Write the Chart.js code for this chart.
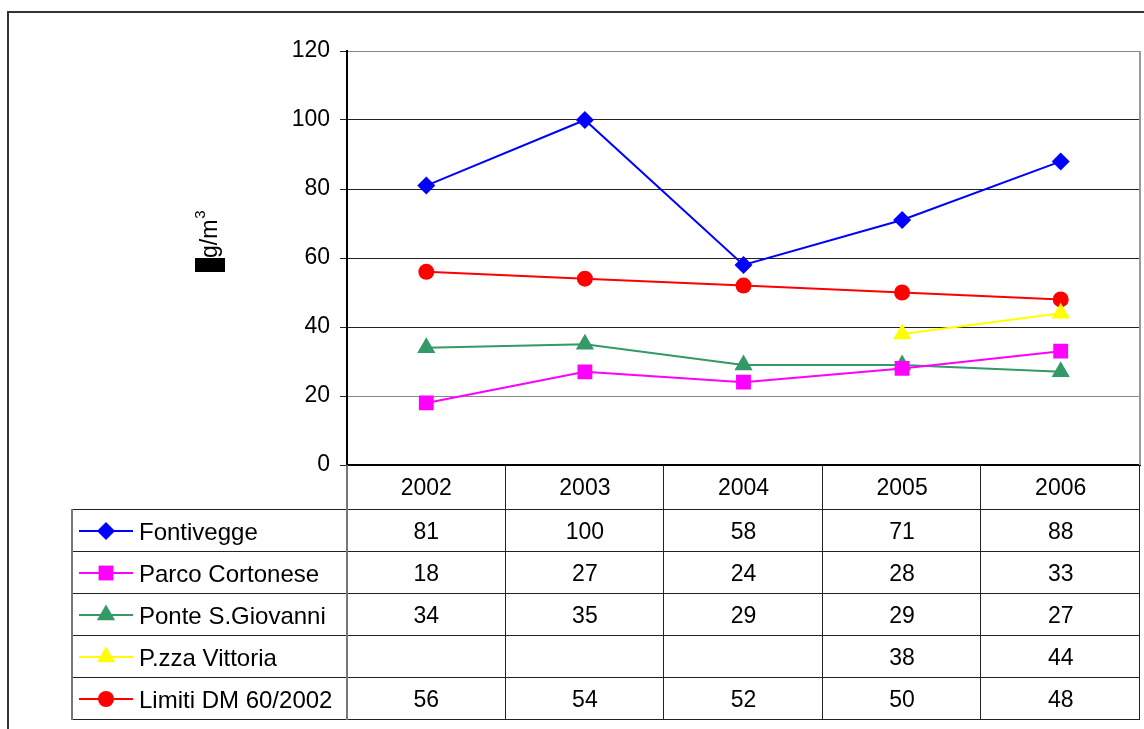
<!DOCTYPE html>
<html>
<head>
<meta charset="utf-8">
<script src="https://cdn.jsdelivr.net/npm/chart.js@4.4.0/dist/chart.umd.min.js"></script>
<style>
  html, body { margin: 0; padding: 0; background: #fff; }
</style>
</head>
<body>
<canvas id="grafico" width="1144" height="729"></canvas>
<script>
// Dati NO2 - medie annuali per stazione
const anni = ["2002", "2003", "2004", "2005", "2006"];
const fontivegge = [81, 100, 58, 71, 88];
const parcoCortonese = [18, 27, 24, 28, 33];
const ponteSGiovanni = [34, 35, 29, 29, 27];
const pzzaVittoria = [null, null, null, 38, 44];
const limitiDM = [56, 54, 52, 50, 48];
const tickY = [0, 20, 40, 60, 80, 100, 120];

const FAMIGLIA = "'Liberation Sans', Arial, sans-serif";
const FONT = "23px " + FAMIGLIA;

// disegna il simbolo della serie (usato nella legenda della tabella)
function disegnaMarker(c, stile, x, y, r, colore) {
  c.save();
  c.fillStyle = colore;
  c.beginPath();
  if (stile === "rectRot") {
    c.moveTo(x, y - r); c.lineTo(x + r, y); c.lineTo(x, y + r); c.lineTo(x - r, y);
  } else if (stile === "rect") {
    const s = r * Math.SQRT1_2;
    c.rect(x - s, y - s, 2 * s, 2 * s);
  } else if (stile === "triangle") {
    c.moveTo(x, y - r);
    c.lineTo(x + Math.sin(2 * Math.PI / 3) * r, y + r / 2);
    c.lineTo(x - Math.sin(2 * Math.PI / 3) * r, y + r / 2);
  } else {
    c.arc(x, y, r, 0, Math.PI * 2);
  }
  c.closePath();
  c.fill();
  c.restore();
}

const tabella = {
  id: "tabella",
  beforeDraw(chart) {
    const c = chart.ctx;
    c.save();
    c.fillStyle = "#fff";
    c.fillRect(0, 0, chart.width, chart.height);
    // cornice esterna
    c.strokeStyle = "#333";
    c.lineWidth = 2;
    c.beginPath();
    c.moveTo(8, chart.height);
    c.lineTo(8, 12);
    c.lineTo(chart.width, 12);
    c.stroke();
    c.restore();
  },
  afterDraw(chart) {
    const c = chart.ctx;
    const a = chart.chartArea;
    const x = chart.scales.x;
    const banda = (a.right - a.left) / anni.length;
    const sx = 72, top = 509, hRiga = 42;
    const serie = chart.data.datasets;
    const fondo = top + hRiga * serie.length;

    c.save();
    // bordo destro area grafico
    c.strokeStyle = "#999";
    c.lineWidth = 2;
    c.beginPath();
    c.moveTo(a.right, a.top);
    c.lineTo(a.right, a.bottom);
    c.stroke();

    // righe orizzontali della tabella
    c.strokeStyle = "#222";
    c.lineWidth = 1;
    for (let i = 0; i <= serie.length; i++) {
      const y = top + i * hRiga + 0.5;
      c.beginPath();
      c.moveTo(sx, y);
      c.lineTo(a.right, y);
      c.stroke();
    }
    // colonne
    for (let i = 1; i <= anni.length; i++) {
      const xx = Math.round(a.left + i * banda) - 0.5;
      c.beginPath();
      c.moveTo(xx, a.bottom);
      c.lineTo(xx, fondo);
      c.stroke();
    }
    c.strokeStyle = "#777";
    c.lineWidth = 2;
    c.beginPath();
    c.moveTo(a.left, a.bottom);
    c.lineTo(a.left, fondo + 1);
    c.stroke();
    c.beginPath();
    c.moveTo(sx, top);
    c.lineTo(sx, fondo + 1);
    c.stroke();

    // legenda e valori
    c.fillStyle = "#000";
    c.textBaseline = "middle";
    serie.forEach((ds, r) => {
      const cy = top + r * hRiga + hRiga / 2 + 1;
      c.strokeStyle = ds.borderColor;
      c.lineWidth = 2;
      c.beginPath();
      c.moveTo(79, cy);
      c.lineTo(133, cy);
      c.stroke();
      disegnaMarker(c, ds.pointStyle, 106, cy, ds.pointRadius, ds.backgroundColor);
      c.fillStyle = "#000";
      c.textAlign = "left";
      c.font = "24px " + FAMIGLIA;
      c.fillText(ds.label, 139, cy + 2);
      c.font = FONT;
      c.textAlign = "center";
      ds.data.forEach((v, i) => {
        if (v === null) return;
        c.fillText(String(v), x.getPixelForValue(i), cy + 2);
      });
    });

    // titolo asse Y (il carattere µ appare come blocco pieno)
    c.translate(211, 272);
    c.rotate(-Math.PI / 2);
    c.fillStyle = "#000";
    c.fillRect(0, -16, 14, 30);
    c.font = "23px " + FAMIGLIA;
    c.textAlign = "left";
    c.textBaseline = "middle";
    c.fillText("µ", 1, 0);
    c.fillText("g/m", 14, 0);
    const w = c.measureText("g/m").width;
    c.font = "15px " + FAMIGLIA;
    c.fillText("3", 14 + w + 1, -10);
    c.restore();
  }
};

function serie(label, dati, colore, stile, raggio) {
  return {
    label: label,
    data: dati,
    borderColor: colore,
    backgroundColor: colore,
    borderWidth: 2,
    pointStyle: stile,
    pointRadius: raggio,
    pointBorderWidth: 0,
    pointBackgroundColor: colore,
    spanGaps: false,
    tension: 0
  };
}

new Chart(document.getElementById("grafico"), {
  type: "line",
  data: {
    labels: anni,
    datasets: [
      serie("Fontivegge", fontivegge, "#0000ff", "rectRot", 9),
      serie("Parco Cortonese", parcoCortonese, "#ff00ff", "rect", 10.5),
      serie("Ponte S.Giovanni", ponteSGiovanni, "#339966", "triangle", 10.5),
      serie("P.zza Vittoria", pzzaVittoria, "#ffff00", "triangle", 10.5),
      serie("Limiti DM 60/2002", limitiDM, "#ff0000", "circle", 8)
    ]
  },
  options: {
    responsive: false,
    animation: false,
    layout: { autoPadding: false, padding: { left: 0, top: 51, right: 4, bottom: 220 } },
    plugins: { legend: { display: false }, tooltip: { enabled: false }, title: { display: false } },
    scales: {
      x: {
        offset: true,
        grid: { display: false, drawTicks: false },
        border: { display: true, color: "#000", width: 2 },
        ticks: { color: "#000", font: { family: FAMIGLIA, size: 23 }, padding: 10, maxRotation: 0 },
        afterFit(s) { s.height = 44; }
      },
      y: {
        min: 0,
        max: 120,
        afterBuildTicks(s) { s.ticks = tickY.map(v => ({ value: v })); },
        ticks: { color: "#000", font: { family: FAMIGLIA, size: 23 }, padding: 10 },
        grid: {
          color: ctx => (ctx.tick && (ctx.tick.value === 120 || ctx.tick.value === 20) ? "#888" : "#222"),
          tickColor: "#222",
          tickLength: 7,
          lineWidth: 1
        },
        border: { color: "#000", width: 2 },
        afterFit(s) { s.width = 347; }
      }
    }
  },
  plugins: [tabella]
});
</script>
</body>
</html>
